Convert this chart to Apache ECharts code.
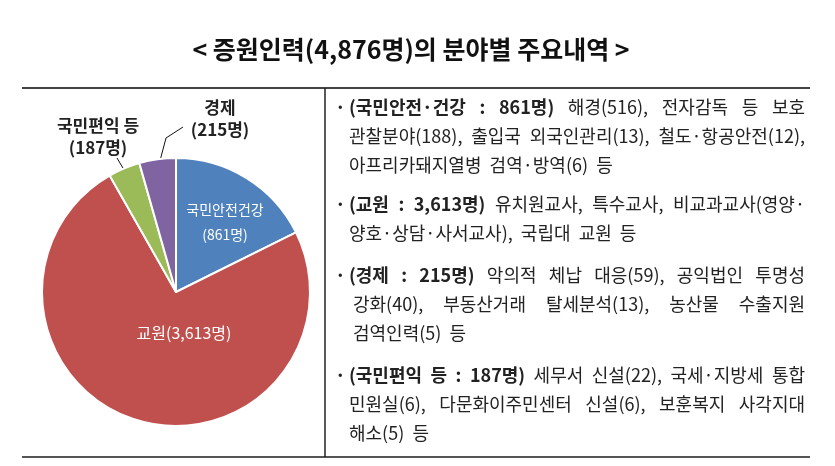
<!DOCTYPE html>
<html>
<head>
<meta charset="utf-8">
<script src="https://cdn.jsdelivr.net/npm/echarts@6/dist/echarts.min.js"></script>
<style>
  html, body { margin: 0; padding: 0; background: #fff; }
  #main { width: 835px; height: 466px; }
</style>
</head>
<body>
<div id="main"></div>
<script>
// chart data
const titleText = '< 증원인력(4,876명)의 분야별 주요내역 >';
const categories = ['국민안전건강', '교원', '국민편익 등', '경제'];
const values = [861, 3613, 187, 215];
const colors = ['#4F81BD', '#C0504D', '#9BBB59', '#8064A2'];

// right-hand notes
const noteHeads = ['(국민안전·건강 : 861명)', '(교원 : 3,613명)', '(경제 : 215명)', '(국민편익 등 : 187명)'];
const noteLines = [
    ['해경(516), 전자감독 등 보호', '관찰분야(188), 출입국 외국인관리(13), 철도·항공안전(12),', '아프리카돼지열병 검역·방역(6) 등'],
    ['유치원교사, 특수교사, 비교과교사(영양·', '양호·상담·사서교사), 국립대 교원 등'],
    ['악의적 체납 대응(59), 공익법인 투명성', '강화(40), 부동산거래 탈세분석(13), 농산물 수출지원', '검역인력(5) 등'],
    ['세무서 신설(22), 국세·지방세 통합', '민원실(6), 다문화이주민센터 신설(6), 보훈복지 사각지대', '해소(5) 등']
];

const FONT = '"Noto Sans CJK KR", "Noto Sans", sans-serif';

window.addEventListener('load', function () {
    let chart = echarts.init(document.getElementById('main'));

    // measure words so the note lines can be justified like the original
    let ctx = document.createElement('canvas').getContext('2d');
    let fs = 18;
    function measure(t, bold) {
        ctx.font = (bold ? 'bold ' : '') + fs + 'px ' + FONT;
        return ctx.measureText(t).width;
    }

    let graphics = [];
    // frame lines
    graphics.push({ type: 'line', shape: { x1: 22, y1: 88, x2: 810, y2: 88 }, style: { stroke: '#444', lineWidth: 2 } });
    graphics.push({ type: 'line', shape: { x1: 22, y1: 457, x2: 810, y2: 457 }, style: { stroke: '#555', lineWidth: 2 } });
    graphics.push({ type: 'line', shape: { x1: 325, y1: 88, x2: 325, y2: 457 }, style: { stroke: '#222', lineWidth: 1.5 } });
    // title
    graphics.push({
        type: 'text',
        style: { text: titleText, x: 411, y: 49, align: 'center', verticalAlign: 'middle',
            fontSize: 25, fontWeight: 'bold', fontFamily: FONT, fill: '#111' }
    });

    let left = 349, right = 805, lineGap = 29;
    let blockTop = [107, 204, 275, 375];
    let indent = [0, 0, 4, 0];
    noteLines.forEach(function (lines, b) {
        graphics.push({
            type: 'text',
            style: { text: '·', x: 335, y: blockTop[b], verticalAlign: 'middle',
                fontSize: 18, fontWeight: 'bold', fontFamily: FONT, fill: '#222' }
        });
        lines.forEach(function (line, i) {
            let words = [];
            if (i === 0) {
                noteHeads[b].split(' ').forEach(function (w) { words.push({ t: w, bold: true }); });
            }
            line.split(' ').forEach(function (w) { words.push({ t: w, bold: false }); });
            let widths = words.map(function (w) { return measure(w.t, w.bold); });
            let sum = widths.reduce(function (a, c) { return a + c; }, 0);
            let x = left + (i > 0 ? indent[b] : 0);
            let justify = i < lines.length - 1;
            let gap = justify ? Math.max(3, (right - x - sum) / (words.length - 1)) : fs * 0.45;
            let y = blockTop[b] + i * lineGap;
            words.forEach(function (w, k) {
                graphics.push({
                    type: 'text',
                    style: { text: w.t, x: x, y: y, verticalAlign: 'middle', fontSize: fs,
                        fontWeight: w.bold ? 'bold' : 'normal', fontFamily: FONT, fill: '#222' }
                });
                x += widths[k] + gap;
            });
        });
    });

    // label placement and leader lines (styling only)
    let labelSpots = [
        { x: 225, y: 222 },
        { x: 184, y: 333 },
        { x: 98, y: 137, line: [[133, 185], [117, 158]] },
        { x: 220, y: 119, line: [[157, 172], [166, 138], [183, 127]] }
    ];
    let outside = [false, false, true, true];

    let pieData = categories.map(function (name, i) {
        return {
            name: name,
            value: values[i],
            itemStyle: { color: colors[i] },
            label: outside[i]
                ? { position: 'outside', color: '#222', fontWeight: 'bold', fontSize: 17, lineHeight: 22 }
                : { position: 'inside', color: '#fff', fontSize: i === 1 ? 16 : 14, lineHeight: 25 },
            labelLine: { show: outside[i], lineStyle: { color: '#111', width: 1 } }
        };
    });

    let option = {
        animation: false,
        graphic: graphics,
        series: [{
            type: 'pie',
            center: [176, 292],
            radius: 134,
            startAngle: 90,
            clockwise: true,
            avoidLabelOverlap: false,
            itemStyle: { borderColor: '#fff', borderWidth: 2 },
            label: {
                fontFamily: FONT,
                formatter: function (p) {
                    let sep = p.dataIndex === 1 ? '' : '\n';
                    return p.name + sep + '(' + p.value.toLocaleString('en-US') + '명)';
                }
            },
            labelLayout: function (p) {
                let s = labelSpots[p.dataIndex];
                let out = { x: s.x, y: s.y, align: 'center', verticalAlign: 'middle' };
                if (s.line) out.labelLinePoints = s.line;
                return out;
            },
            data: pieData
        }]
    };
    chart.setOption(option);
}, false);
</script>
</body>
</html>
